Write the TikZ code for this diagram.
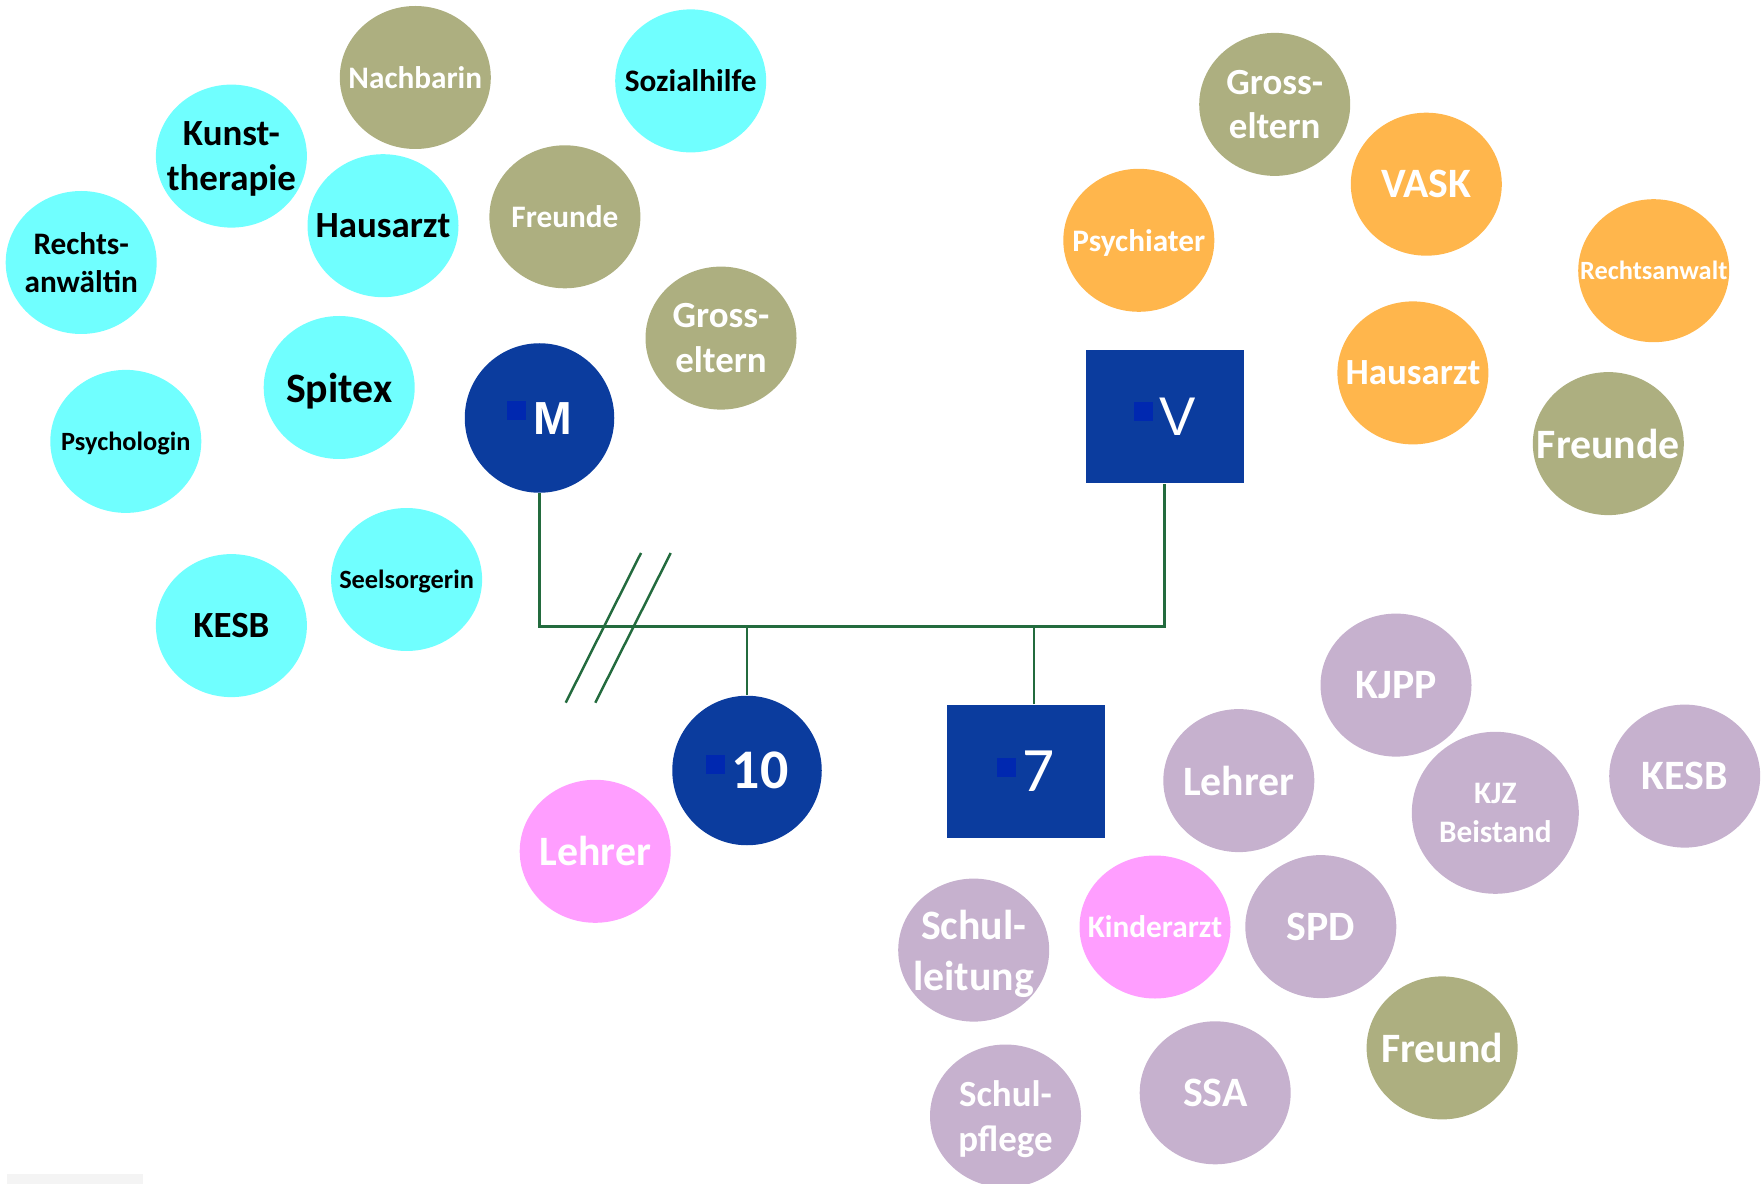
\documentclass[tikz,border=0pt]{standalone}
\usepackage{fontspec}
\setmainfont{Carlito}
\newfontfamily\arialfont{Liberation Sans}
\usepackage{xcolor}
\usepackage{tikz}
\usetikzlibrary{shapes.geometric}
\definecolor{netcyan}{HTML}{70FFFF}
\definecolor{netolive}{HTML}{ADAF80}
\definecolor{netorange}{HTML}{FFB64C}
\definecolor{netlilac}{HTML}{C6B1CE}
\definecolor{netpink}{HTML}{FF9EFF}
\definecolor{famblue}{HTML}{0B3C9E}
\definecolor{marksq}{HTML}{0028B0}
\definecolor{linegreen}{HTML}{236B3E}
\definecolor{stripgray}{HTML}{F4F4F4}
\newcommand{\famsq}{\textcolor{marksq}{\rule[0.145cm]{0.19cm}{0.19cm}}\hspace{0.07cm}}
\tikzset{
  netnode/.style={ellipse,minimum width=1.51cm,minimum height=1.43cm,inner sep=-0.25cm,text depth=0pt,align=center,text=white},% negative sep keeps the ellipse at its minimum size
  cyannode/.style={netnode,fill=netcyan,text=black},
  olivenode/.style={netnode,fill=netolive},
  orangenode/.style={netnode,fill=netorange},
  lilacnode/.style={netnode,fill=netlilac},
  pinknode/.style={netnode,fill=netpink},
  txtS/.style={font=\fontsize{7.5}{9}\selectfont\bfseries},
  txtM/.style={font=\fontsize{8.9}{10.9}\selectfont\bfseries},
  txtL/.style={font=\fontsize{10.5}{12.8}\selectfont\bfseries},
  txtXL/.style={font=\fontsize{11.9}{14.5}\selectfont\bfseries},
  famcirc/.style={circle,fill=famblue,minimum size=1.495cm,inner sep=0pt,text=white},
  fambox/.style={rectangle,fill=famblue,minimum width=1.58cm,minimum height=1.33cm,inner sep=0pt,text=white},
  famline/.style={draw=linegreen,line width=0.7pt},
}
\begin{document}
\begin{tikzpicture}
  \useasboundingbox (0,0) rectangle (17.61,-11.84);
  \fill[stripgray] (0.07,-11.74) rectangle (1.43,-11.84);
  % mother's network
  \node[olivenode,txtM] (nachbarin) at (4.153,-0.775) {Nachbarin};
  \node[cyannode,txtM] (sozial) at (6.907,-0.809) {Sozialhilfe};
  \node[cyannode,txtL] (kunst) at (2.314,-1.561) {Kunst-\\therapie};
  \node[cyannode,txtL] (hausM) at (3.830,-2.257) {Hausarzt};
  \node[olivenode,txtM] (freundeM) at (5.649,-2.168) {Freunde};
  \node[cyannode,txtM] (anwaltM) at (0.812,-2.625) {Rechts-\\anwältin};
  \node[olivenode,txtL] (grossM) at (7.210,-3.381) {Gross-\\eltern};
  \node[cyannode,txtXL] (spitex) at (3.392,-3.875) {Spitex};
  \node[cyannode,txtS] (psycho) at (1.258,-4.414) {Psychologin};
  \node[cyannode,txtS] (seelsorge) at (4.066,-5.795) {Seelsorgerin};
  \node[cyannode,txtL] (kesbM) at (2.314,-6.256) {KESB};
  % father's network
  \node[olivenode,txtL] (grossV) at (12.747,-1.044) {Gross-\\eltern};
  \node[orangenode,txtXL] (vask) at (14.263,-1.842) {VASK};
  \node[orangenode,txtM] (psychiater) at (11.388,-2.403) {Psychiater};
  \node[orangenode,txtS] (anwaltV) at (16.537,-2.707) {Rechtsanwalt};
  \node[orangenode,txtL] (hausV) at (14.129,-3.729) {Hausarzt};
  \node[olivenode,txtXL] (freundeV) at (16.083,-4.436) {Freunde};
  % family
  \node[famcirc,font=\arialfont\bfseries\fontsize{13.2}{16}\selectfont] (mum) at (5.395,-4.180) {\famsq M};
  \node[fambox,font=\arialfont\fontsize{15.5}{18}\selectfont] (dad) at (11.647,-4.170) {\famsq V};
  \node[famcirc,font=\bfseries\fontsize{15.9}{19}\selectfont] (kid10) at (7.470,-7.705) {\famsq 10};
  \node[fambox,font=\fontsize{18}{21}\selectfont] (kid7) at (10.260,-7.715) {\famsq 7};
  \coordinate (bar) at (0,-6.267);
  \draw[famline] (mum.south) -- (mum.south |- bar) -| (dad.south);
  \draw[famline] (kid10.north) -- (kid10.north |- bar);
  \draw[famline] ([xshift=0.08cm]kid7.north) -- ([xshift=0.08cm]kid7.north |- bar);
  \draw[famline] (5.657,-7.027) -- (6.410,-5.530);
  \draw[famline] (5.953,-7.027) -- (6.707,-5.530);
  % children's network
  \node[lilacnode,txtXL] (kjpp) at (13.960,-6.851) {KJPP};
  \node[lilacnode,txtXL] (lehrer7) at (12.388,-7.806) {Lehrer};
  \node[lilacnode,txtM,minimum width=1.67cm,minimum height=1.62cm] (kjz) at (14.953,-8.128) {KJZ\\Beistand};
  \node[lilacnode,txtXL] (kesbK) at (16.847,-7.761) {KESB};
  \node[pinknode,txtXL] (lehrer10) at (5.952,-8.513) {Lehrer};
  \node[lilacnode,txtXL] (schulleitung) at (9.737,-9.501) {Schul-\\leitung};
  \node[pinknode,txtM] (kinderarzt) at (11.550,-9.270) {Kinderarzt};
  \node[lilacnode,txtXL] (spd) at (13.208,-9.266) {SPD};
  \node[olivenode,txtXL] (freund) at (14.421,-10.479) {Freund};
  \node[lilacnode,txtL] (schulpflege) at (10.055,-11.160) {Schul-\\pflege};
  \node[lilacnode,txtXL] (ssa) at (12.152,-10.928) {SSA};
\end{tikzpicture}
\end{document}
